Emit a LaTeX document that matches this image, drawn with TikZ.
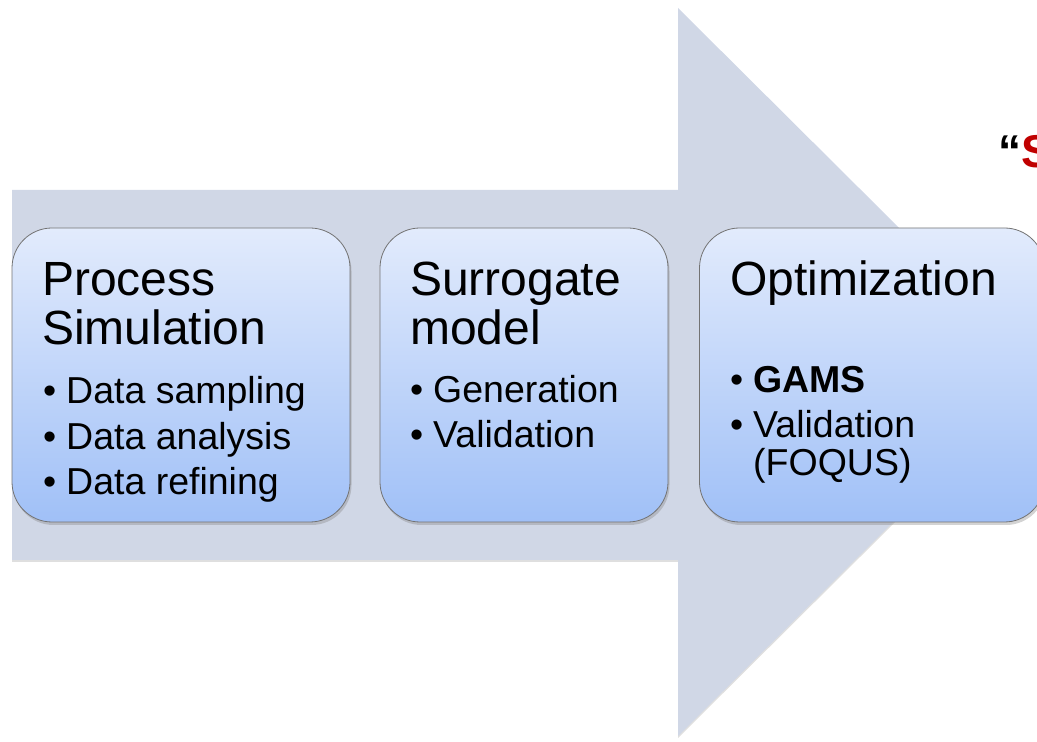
\documentclass[tikz,border=0pt]{standalone}
\usepackage{fontspec}
\setmainfont{Liberation Sans}
\usetikzlibrary{shadows}

\definecolor{arrowgray}{RGB}{208,215,230}
\definecolor{boxtop}{RGB}{226,235,252}
\definecolor{boxbottom}{RGB}{160,192,247}
\definecolor{titlered}{RGB}{192,0,0}

% bullet with hanging indent
\newcommand{\bitem}[1]{\makebox[23pt][l]{\textbullet}#1}

\begin{document}
\begin{tikzpicture}[x=1pt,y=1pt,
      stage/.style={rounded corners=40pt,draw=black!55,line width=0.8pt,
        top color=boxtop,bottom color=boxbottom,
        drop shadow={opacity=0.35,shadow xshift=1.5pt,shadow yshift=-3pt},
        minimum height=294pt,inner sep=0pt},
      head/.style={anchor=base west,inner sep=0pt,font=\fontsize{48}{48}\selectfont},
      item/.style={anchor=base west,inner sep=0pt,font=\fontsize{37.5}{37.5}\selectfont}]
    \useasboundingbox (0,0) rectangle (1037,742);
    \clip (0,0) rectangle (1037,742);

    % big background arrow
    \fill[arrowgray,drop shadow={opacity=0.25,shadow xshift=0pt,shadow yshift=-2pt}]
        (12,552) -- (678,552) -- (678,734) -- (1044,370) -- (678,6)
        -- (678,182) -- (12,182) -- cycle;

    % title, cut off at the right
    \node[anchor=base west,inner sep=0pt,font=\fontsize{46}{46}\selectfont\bfseries]
        (title) at (998,574) {“\textcolor{titlered}{S}};

    % stages
    \node[stage,minimum width=338pt] (sim) at (181,367) {};
    \node[stage,minimum width=288pt] (surr) at (524,367) {};
    \node[stage,minimum width=345pt] (opt) at (872,367) {};

    % process simulation
    \node[head] (simA) at (42,446) {Process};
    \node[head] (simB) at (42,397) {Simulation};
    \node[item] (simC) at (43,338) {\bitem{Data sampling}};
    \node[item] (simD) at (43,292) {\bitem{Data analysis}};
    \node[item] (simE) at (43,247) {\bitem{Data refining}};

    % surrogate model
    \node[head] (surrA) at (410,446) {Surrogate};
    \node[head] (surrB) at (410,397) {model};
    \node[item] (surrC) at (410,339) {\bitem{Generation}};
    \node[item] (surrD) at (410,294) {\bitem{Validation}};

    % optimization
    \node[head] (optA) at (730,446) {Optimization};
    \node[item] (optB) at (730,349) {\bitem{\bfseries GAMS}};
    \node[item] (optC) at (730,304) {\bitem{Validation}};
    \node[item] (optD) at (753,266) {(FOQUS)};

\end{tikzpicture}
\end{document}
